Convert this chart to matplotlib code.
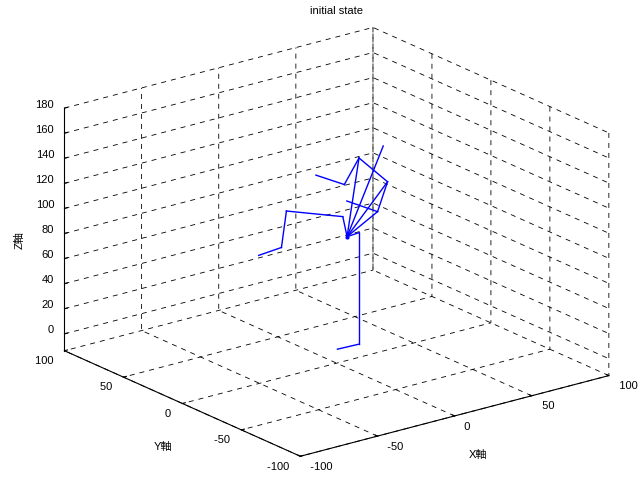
import numpy as np
import matplotlib
matplotlib.use("Agg")
import matplotlib.pyplot as plt

plt.rcParams['font.family'] = ['Liberation Sans', 'Noto Sans CJK JP', 'DejaVu Sans']
plt.rcParams['font.size'] = 8
plt.rcParams['axes.unicode_minus'] = False

# joint positions
joint_names = ["root", "hip", "knee", "foot",
               "chest", "shoulder_l", "elbow_l", "hand_l",
               "neck", "shoulder_r", "elbow_r", "hand_r",
               "head", "arm_a", "arm_b"]
joint_x = [17.0, 22.0, 22.0, 13.1, 15.3, -7.8, -9.8, -19.1, 21.9, 33.6, 29.5, 16.9, 31.8, 15.9, 4.3]
joint_y = [13.4, 9.6, 9.6, 16.5, 14.8, 32.4, 34.0, 41.1, 9.7, 0.8, 3.9, 13.5, 2.1, 14.3, 23.2]
joint_z = [76.3, 79.5, -9.4, -13.5, 92.2, 96.7, 67.6, 61.3, 139.0, 120.0, 96.2, 104.7, 148.6, 117.8, 125.3]

# bones as pairs of joint indices
bones = [(0, 1), (1, 2), (2, 3),
         (0, 4), (4, 5), (5, 6), (6, 7),
         (0, 8), (8, 9), (9, 10), (10, 11),
         (0, 12), (0, 9), (0, 10),
         (8, 13), (13, 14)]

x_ticks = [-100, -50, 0, 50, 100]
y_ticks = [-100, -50, 0, 50, 100]
z_ticks = [0, 20, 40, 60, 80, 100, 120, 140, 160, 180]

fig = plt.figure(figsize=(6.41, 4.93), dpi=100)
ax = fig.add_axes([9.5 / 641, -2 / 493, 1, 1], projection='3d', proj_type='ortho')
ax.view_init(elev=20.0, azim=-127.4)
ax.set_box_aspect((1, 1, 0.665), zoom=1.195)

jx, jy, jz = np.array(joint_x), np.array(joint_y), np.array(joint_z)
for i, j in bones:
    ax.plot([jx[i], jx[j]], [jy[i], jy[j]], [jz[i], jz[j]], color=(0, 0, 1), lw=1)
ax.plot([jx[0]], [jy[0]], [jz[0]], 'o', color=(0, 0, 1), ms=2)

ax.set_xlim(-100, 100)
ax.set_ylim(-100, 100)
ax.set_zlim(min(joint_z), 180)
ax.set_xticks(x_ticks, labels=["  %d" % v for v in x_ticks], ha='left')
ax.set_yticks(y_ticks, labels=["%d  " % v for v in y_ticks], ha='right')
ax.set_zticks(z_ticks, labels=["%d" % v for v in z_ticks], ha='right', va='baseline')

for axis in (ax.xaxis, ax.yaxis, ax.zaxis):
    axis.set_pane_color((1, 1, 1, 0))
    axis.pane.set_edgecolor('none')
    axis.line.set_color('k')
    axis.line.set_linewidth(0.8)
    axis._axinfo['grid'].update(color='k', linestyle=(0, (6, 6)), linewidth=0.6)
    axis._axinfo['tick'].update(inward_factor=0.0, outward_factor=0.12)

ax.xaxis.set_tick_params(pad=-5)
ax.yaxis.set_tick_params(pad=-5)
ax.zaxis.set_tick_params(pad=-4.5)

fig.text(336 / 641, 1 - 11 / 493, "initial state", ha='center', va='center')
fig.text(478 / 641, 1 - 455 / 493, "X軸", ha='center', va='center')
fig.text(163 / 641, 1 - 447 / 493, "Y軸", ha='center', va='center')
fig.text(20 / 641, 1 - 240 / 493, "Z軸", ha='center', va='center', rotation=90)

fig.savefig("out.png", dpi=100)
